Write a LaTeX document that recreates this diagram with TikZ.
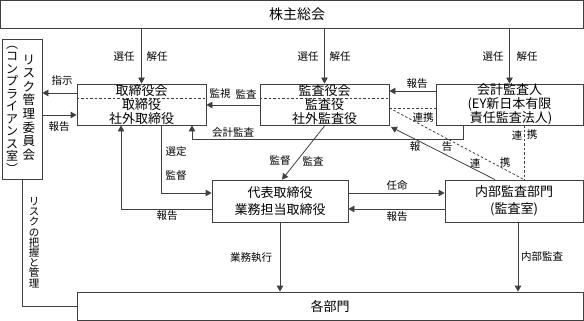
\documentclass[tikz,border=0pt]{standalone}
\usepackage{fontspec}
\setmainfont{Noto Sans CJK JP}
\usetikzlibrary{arrows.meta}
\AtBeginDocument{\lineskiplimit=-20pt\relax}
\begin{document}
\begin{tikzpicture}[x=1pt,y=-1pt,
  box/.style={draw=black!75, line width=0.8pt, inner sep=0pt, align=center,
    font=\fontsize{13}{13.8}\selectfont},
  box2/.style={box, font=\fontsize{13}{17.5}\selectfont},
  lbl/.style={font=\fontsize{10.5}{11}\selectfont, inner sep=0pt},
  vcol/.style={inner sep=0pt, align=center},
  conn/.style={draw=black!75, line width=0.8pt},
  arr/.style={conn, -{Triangle[length=6pt,width=6.5pt]}},
  dsh/.style={draw=black!75, line width=0.8pt, dash pattern=on 2.5pt off 2pt},
]
\useasboundingbox (0,0) rectangle (584,321);

% boxes
\node[box, minimum width=583pt, minimum height=27.5pt] (top) at (292,14.25) {};
\node[inner sep=0pt, font=\fontsize{14}{15}\selectfont] (toptxt) at (297,14.5) {株主総会};
\node[box, minimum width=40pt, minimum height=140pt] (risk) at (22,109) {};
\node[vcol, font=\fontsize{12.5}{13.6}\selectfont] (riskA) at (29,107.5)
  {リ\\ス\\ク\\管\\理\\委\\員\\会};
\node[vcol, font=\fontsize{12}{12.5}\selectfont] (riskB) at (12,109.5)
  {︵\\コ\\ン\\プ\\ラ\\イ\\ア\\ン\\ス\\室\\︶};
\node[box, minimum width=129pt, minimum height=41pt] (board) at (141.5,104.5)
  {取締役会\\取締役\\社外取締役};
\node[box, minimum width=129pt, minimum height=41pt] (audit) at (324.5,104.5)
  {監査役会\\監査役\\社外監査役};
\node[box, minimum width=147pt, minimum height=41pt] (acct) at (509.5,104.5)
  {会計監査人\\(EY新日本有限\\\ 責任監査法人)};
\node[box2, minimum width=136pt, minimum height=42pt] (rep) at (280,201)
  {代表取締役\\業務担当取締役};
\node[box2, minimum width=138pt, minimum height=42pt] (intl) at (514,201)
  {内部監査部門\\(監査室)};
\node[box, minimum width=506pt, minimum height=28.5pt] (depts) at (330,306.25) {};
\node[inner sep=0pt, font=\fontsize{13}{14}\selectfont] (deptstxt) at (330,306.5) {各部門};

% dashed separators inside boxes
\draw[dsh] (board.west |- 0,98) -- (board.east |- 0,98);
\draw[dsh] (audit.west |- 0,98) -- (audit.east |- 0,98);

% election arrows
\draw[arr] (board.north |- top.south) -- (board.north);
\draw[arr] (audit.north |- top.south) -- (audit.north);
\draw[arr] (acct.north |- top.south) -- (acct.north);
\node[lbl] (l1) at (124,57) {選任};
\node[lbl] (l2) at (157,57) {解任};
\node[lbl] (l3) at (308,57) {選任};
\node[lbl] (l4) at (340,57) {解任};
\node[lbl] (l5) at (493,57) {選任};
\node[lbl] (l6) at (527,57) {解任};

% risk committee links
\draw[arr] (board.west |- 0,93) -- (risk.east |- 0,93);
\draw[arr] (risk.east |- 0,115) -- (board.west |- 0,115);
\node[lbl] (l7) at (62,81) {指示};
\node[lbl] (l8) at (59,127) {報告};
\draw[conn] (risk.south) |- (depts.west);
\node[vcol, font=\fontsize{10.5}{10.2}\selectfont] (l9) at (34,242.5)
  {リ\\ス\\ク\\の\\把\\握\\と\\管\\理};

% audit board -> board
\draw[arr] (audit.west |- 0,105) -- (board.east |- 0,105);
\node[lbl] (l10) at (220,94) {監視};
\node[lbl] (l11) at (246,94) {監査};

% accounting auditor <-> audit board
\draw[arr] (acct.west |- 0,91) -- (audit.east |- 0,91);
\node[lbl] (l12) at (417,84) {報告};
\draw[dsh] (audit.east |- 0,108) -- (acct.west |- 0,108);
\node[lbl] (l13) at (423,118) {連携};

% accounting audit to board
\draw[arr] (acct.south -| 463,0) -- ++(0,14) -| (board.south -| 192,0);
\node[lbl] (l14) at (233,133) {会計監査};

% internal audit links
\draw[dsh] (acct.south -| 524,0) -- (intl.north -| 524,0);
\node[lbl] (l15) at (517,135) {連};
\node[lbl] (l16) at (532,135) {携};
\draw[dsh] (audit.east |- 0,108) -- (intl.north -| 524,0);
\node[lbl] (l17) at (475,163) {連};
\node[lbl] (l18) at (505,163) {携};
\draw[arr] (intl.north -| 495,0) -- (391,127);
\node[lbl] (l19) at (415,147) {報};
\node[lbl] (l20) at (447,147) {告};

% audit -> representative
\draw[arr] (audit.south -| 325,0) -- (rep.north -| 282,0);
\node[lbl] (l21) at (280,161) {監督};
\node[lbl] (l22) at (313,161) {監査};

% board <-> representative
\draw[arr] (board.south -| 161,0) |- (rep.west |- 0,193);
\node[lbl] (l23) at (176,152) {選定};
\node[lbl] (l24) at (176,176) {監督};
\draw[arr] (rep.west |- 0,209) -| (board.south -| 121,0);
\node[lbl] (l25) at (167,216) {報告};

% representative <-> internal audit
\draw[arr] (rep.east |- 0,193) -- (intl.west |- 0,193);
\node[lbl] (l26) at (397,186) {任命};
\draw[arr] (intl.west |- 0,209) -- (rep.east |- 0,209);
\node[lbl] (l27) at (397,217) {報告};

% to departments
\draw[arr] (rep.south) -- (depts.north -| rep.south);
\node[lbl] (l28) at (251,258) {業務執行};
\draw[arr] (intl.south -| 518,0) -- (depts.north -| 518,0);
\node[lbl] (l29) at (542,257) {内部監査};
\end{tikzpicture}
\end{document}
